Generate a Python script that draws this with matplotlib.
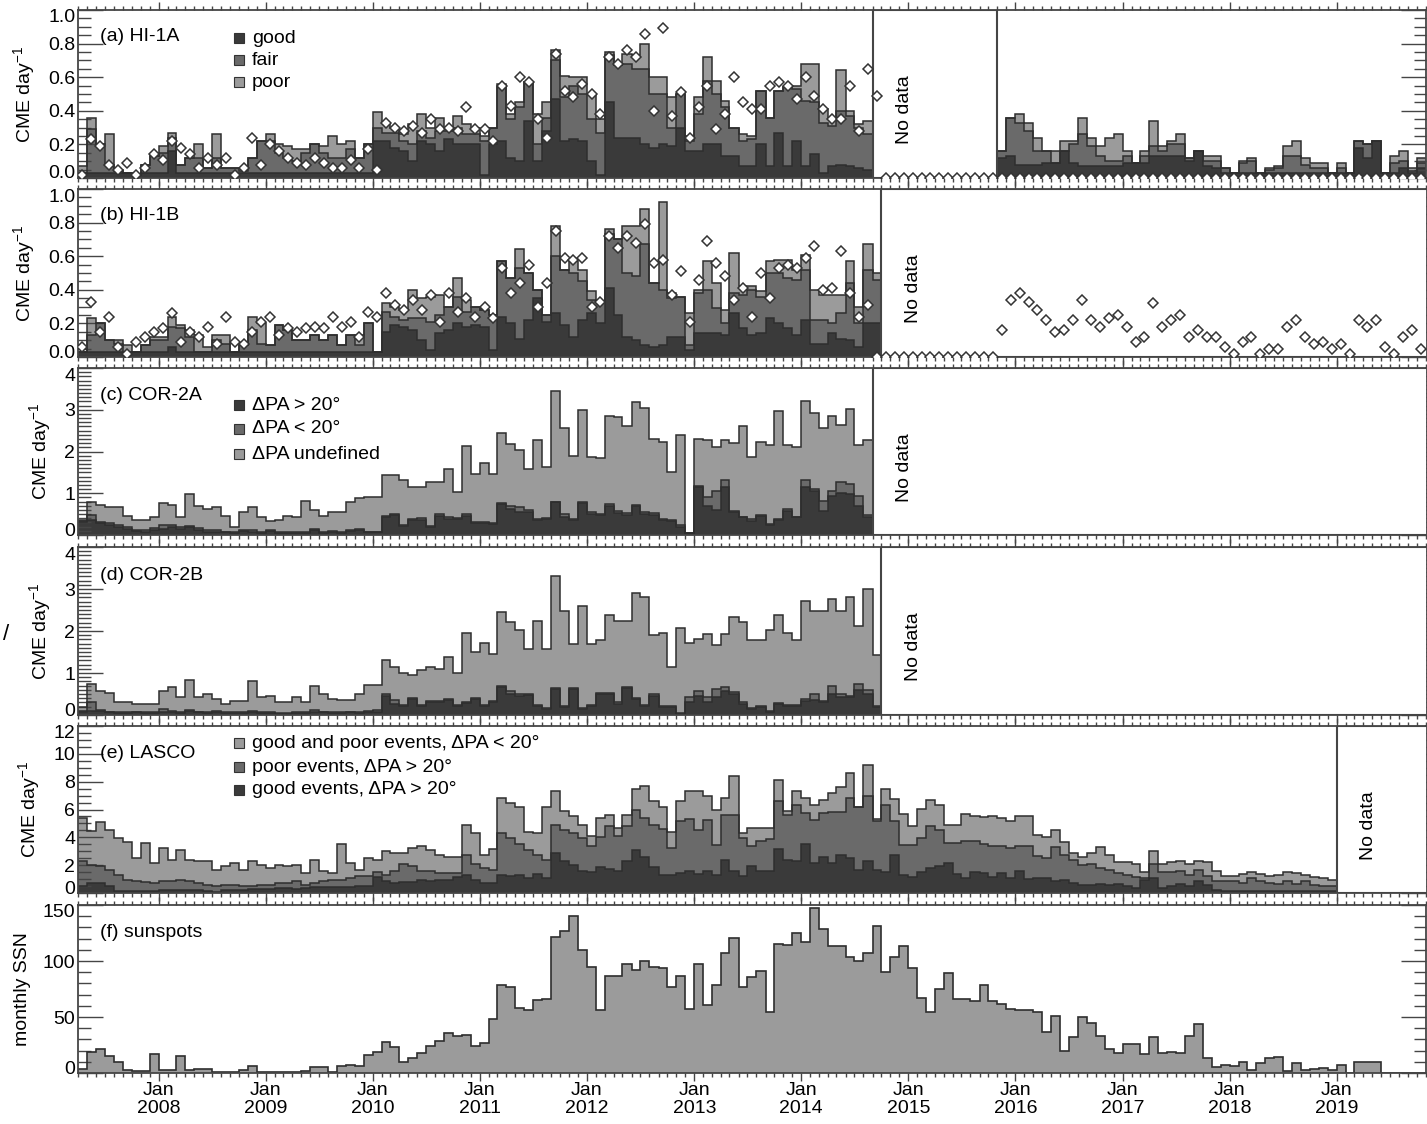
import numpy as np
import pandas as pd
import matplotlib
matplotlib.use("Agg")
import matplotlib.pyplot as plt
import matplotlib.dates as mdates
from matplotlib.patches import Rectangle
from matplotlib.ticker import FixedLocator, MultipleLocator, FormatStrFormatter
from matplotlib.transforms import ScaledTranslation

plt.rcParams['font.family'] = ['Liberation Sans', 'DejaVu Sans']
plt.rcParams['mathtext.fontset'] = 'custom'
plt.rcParams['mathtext.rm'] = 'Liberation Sans'
plt.rcParams['mathtext.it'] = 'Liberation Sans'
plt.rcParams['mathtext.default'] = 'regular'

nan = np.nan

# monthly bins, Apr 2007 .. Oct 2019
month_edges = pd.date_range("2007-04-01", periods=152, freq="MS")

# ---- (a) HI-1A: good / fair / poor, plus diamonds ----
hi1a_good = [.03,.03,.03,.03,.03,.03,.02,.03,.03,.03,.16,.03,.03,.03,.03,.03,.03,.03,.03,.03,
             .03,.03,.03,.03,.03,.03,.03,.03,.03,.03,.03,.03,.03,
             .22,.22,.18,.16,.10,.22,.20,.16,.23,.20,.20,.20,.02,.20,.22,.12,.10,.34,.10,.28,
             .47,.22,.23,.22,.10,.02,.45,.24,.24,.24,.20,.18,.20,.19,.30,.16,.16,.20,.20,.13,
             .13,.07,.07,.20,.07,.27,.07,.22,.07,.14,.03,.07,.08,.07,.06,.05,
             nan,nan,nan,nan,nan,nan,nan,nan,nan,nan,nan,nan,nan,nan,
             .12,.13,.08,.08,.08,.09,.09,.16,.09,.07,.07,.07,.07,.07,.09,.09,.09,.13,.13,.13,
             .13,.10,.16,.07,.06,.03,.03,.03,.03,.03,.03,.03,.03,.03,.03,.03,.03,.03,.03,.03,
             .18,.12,.22,.03,.03,.06,.03,.06]
hi1a_fair = [0,.26,.17,.05,.01,0,0,.05,.10,.12,.08,.05,.09,.09,.03,.09,.03,.03,.01,.09,
             .19,.19,.12,.09,.07,.12,.17,.12,.09,.09,.14,.09,.17,.08,.05,.09,.06,.10,.06,.04,
             .12,.05,.10,.06,.06,.20,.10,.32,.23,.32,.23,.10,.08,.23,.26,.32,.28,.25,.25,.28,
             .43,.44,.41,.45,.32,.30,.11,.20,.06,.22,.38,.30,.29,.17,.15,.16,.32,.29,.25,.47,
             .31,.39,.31,.30,.24,.32,.30,.24,.21,
             nan,nan,nan,nan,nan,nan,nan,nan,nan,nan,nan,nan,nan,nan,
             .04,.23,.25,.20,.08,.07,0,0,.11,.19,.12,.06,.03,.03,.04,0,.04,.06,.03,.07,
             .07,.02,0,.03,.04,.03,0,.06,.07,0,.02,.03,.10,.10,.05,.03,.03,0,.03,0,
             .04,.08,0,0,.06,.04,.01,.03]
hi1a_poor = [.04,.07,0,.18,.01,0,0,0,0,.04,.03,0,0,.08,0,.14,0,0,.02,0,
             0,.04,.05,.07,.07,.02,0,.04,.13,.08,.05,0,0,.09,.06,.03,.04,.12,.10,.06,
             .08,.01,.07,.06,.04,.03,0,.02,.03,.03,0,.18,.09,.06,.13,.05,.10,.15,.08,.02,
             0,.06,.08,.15,.10,.10,.18,0,.03,.10,.14,.08,.04,0,.04,.02,0,0,0,0,
             .02,.22,.23,.08,.05,.24,.03,.02,.08,
             nan,nan,nan,nan,nan,nan,nan,nan,nan,nan,nan,nan,nan,nan,
             0,0,.05,.05,.08,0,.07,.06,.02,.10,.05,.06,.14,.16,.03,0,.03,.15,.03,.02,
             .06,0,0,.03,.03,0,0,.01,.02,0,.01,.01,.06,.09,.04,.03,.03,0,.03,0,
             0,0,0,0,.04,.06,.02,.03]
hi1a_marks = [.02,.23,.19,.08,.05,.09,.02,.06,.14,.11,.22,.18,.14,.06,.12,.08,.12,.02,.06,.24,
              .08,.20,.16,.12,.09,.08,.12,.09,.06,.06,.11,.06,.17,.05,.33,.30,.28,.31,.27,.35,
              .29,.30,.28,.42,.29,.29,.22,.55,.43,.60,.57,.35,.24,.74,.52,.48,.56,.50,.38,.72,
              .68,.76,.72,.86,.40,.89,.37,.51,.24,.42,.55,.29,
              .38,.60,.45,.41,.41,.55,.57,.55,.47,.60,.49,.41,.35,.35,.55,.28,.65,.49,
              0,0,0,0,0,0,0,0,0,0,0,0,0,0,0,0,0,0,0,0,0,0,0,0,0,0,0,0,0,0,
              0,0,0,0,0,0,0,0,0,0,0,0,0,0,0,0,0,0,0,0,0,0,0,0,0,0,0,0,0,0,0]

# ---- (b) HI-1B ----
nan61 = [nan] * 61
hi1b_good = [.03,.03,.03,.03,.03,.03,.03,.03,.03,.03,.06,.03,.03,.03,.03,.03,.03,.03,.03,.03,
             .03,.03,.03,.03,.03,.03,.03,.03,.03,.03,.03,.03,.03,.03,
             .15,.19,.18,.16,.10,.04,.14,.16,.20,.18,.19,.18,.04,.24,.20,.11,.22,.35,.21,.26,
             .19,.12,.22,.26,.20,.41,.25,.12,.10,.07,.06,.07,.12,.12,.04,.14,.14,.14,.13,.26,
             .17,.13,.14,.23,.20,.17,.13,.22,.08,.08,.14,.11,.10,.06,.20,.20] + nan61
hi1b_fair = [0,.10,.17,.07,.05,0,0,.04,.07,.07,.12,.14,.09,0,0,.07,.05,0,.04,.13,
             .05,.04,.16,.13,.07,.07,.10,.07,.10,.04,.10,.04,.17,0,.12,.05,.04,.07,.13,.17,
             .11,.14,.16,.09,.11,.10,.21,.33,.27,.42,.28,.05,.04,.34,.33,.38,.23,.08,.13,.32,
             .45,.38,.38,.60,.38,.33,.23,.24,.03,.24,.26,.15,.07,.12,.20,.27,.22,.27,.30,.30,
             .33,.30,.14,.14,.06,.15,.34,.14,.32,.26] + nan61
hi1b_poor = [0,.10,0,0,.02,.04,0,0,.02,.02,.06,.02,.04,.10,.03,.03,.05,0,0,.08,
             .12,0,0,0,0,0,0,0,0,0,0,.06,0,0,.05,.06,.06,.17,.12,.15,
             .12,0,.11,.07,0,0,0,0,0,.11,0,0,0,.18,0,.07,.07,.05,0,.03,
             0,.28,.30,.21,0,.52,.03,0,.19,.02,.17,.15,.08,.24,.05,.02,.03,.07,.08,.11,
             .06,.09,.18,.15,.17,.11,.13,.10,.15,.04] + nan61
hi1b_marks = [.06,.33,.15,.24,.06,.02,.09,.12,.15,.17,.26,.09,.15,.12,.18,.08,.24,.09,.08,.15,
              .21,.24,.13,.17,.15,.17,.18,.17,.24,.18,.21,.12,.27,.24,.38,.31,.28,.34,.28,.37,
              .21,.38,.27,.35,.24,.30,.23,.53,.38,.44,.55,.30,.44,.75,.59,.58,.59,.30,.33,.72,
              .65,.72,.68,.79,.56,.58,.37,.51,.21,.46,
              .69,.56,.48,.34,.41,.24,.50,.35,.53,.55,.53,.59,.66,.40,.41,.63,.38,.24,.31,
              0,0,0,0,0,0,0,0,0,0,0,0,0,0,
              .16,.34,.38,.33,.28,.22,.15,.16,.22,.34,.22,.18,.23,.25,.18,.09,.12,.32,.18,.22,
              .25,.12,.16,.12,.12,.06,.02,.09,.12,.02,.05,.05,.18,.22,.12,.08,.09,.05,.08,.02,
              .22,.18,.22,.06,.02,.12,.16,.05]

# ---- (c) COR-2A: dPA > 20, dPA < 20, dPA undefined ----
nan62 = [nan] * 62
cor2a_gt20 = [.30,.35,.28,.25,.20,.15,.10,.08,.12,.15,.20,.15,.18,.12,.08,.08,.06,.05,.10,.08,
              .05,.10,.05,.05,.05,.05,.12,.05,.08,.05,.10,.12,.06,.06,.42,.48,.22,.35,.35,.18,
              .46,.38,.38,.46,.28,.28,.26,.74,.62,.54,.54,.35,.38,.78,.44,.35,.76,.50,.48,.70,
              .53,.48,.69,.50,.48,.36,.34,.20,.04,1.15,.70,.60,1.15,.54,.42,.34,.46,.23,.36,.58,
              .44,1.16,1.06,.58,.94,1.00,.98,.70,.42] + nan62
cor2a_lt20 = [.04,.12,.03,.03,.03,.04,.03,.03,.04,.08,.05,.03,.04,.04,.03,.03,.02,.02,.03,.03,
              .02,.02,.02,.02,.02,.02,.03,.02,.02,.02,.03,.03,.02,.02,.04,.03,.03,.04,.05,.03,
              .05,.04,.03,.04,.03,.03,.03,.02,.08,.12,.05,.04,.03,.02,.06,.04,.03,.04,.03,.04,
              .05,.04,.04,.06,.04,.03,.03,.03,.01,.02,.20,.46,.16,.04,.00,.04,.02,.03,.02,.04,
              .00,.15,.04,.24,.12,.27,.23,.24,.06] + nan62
cor2a_undef = [.02,.31,.42,.38,.43,.27,.22,.24,.26,.53,.48,.24,.76,.53,.51,.55,.38,.13,.41,.55,
               .35,.22,.29,.39,.35,.75,.45,.39,.44,.47,.65,.74,.82,.82,.98,.92,1.07,.76,.76,1.06,
               .76,1.17,.61,1.63,1.16,1.42,1.18,1.68,1.49,1.37,1.00,1.88,1.22,2.64,2.06,1.51,2.21,1.33,1.34,2.10,
               2.24,2.10,2.45,2.48,1.79,1.84,1.14,2.17,0,1.13,1.37,1.04,.96,1.63,2.18,1.49,1.75,1.89,2.60,1.53,
               1.66,1.89,1.82,1.74,1.79,1.37,1.81,1.21,1.79] + nan62

# ---- (d) COR-2B ----
cor2b_gt20 = [.06,.10,.10,.06,.05,.05,.06,.05,.05,.08,.06,.05,.10,.06,.05,.08,.05,.05,.05,.06,
              .05,.05,.03,.03,.05,.05,.08,.06,.05,.05,.06,.05,.08,.08,.45,.27,.22,.37,.22,.30,
              .30,.35,.22,.29,.38,.22,.30,.66,.51,.46,.47,.22,.14,.62,.19,.62,.14,.22,.50,.50,
              .27,.64,.38,.22,.46,.19,.18,.02,.32,.46,.30,.42,.58,.50,.26,.14,.19,.06,.26,.22,
              .22,.34,.35,.30,.50,.43,.43,.59,.50,.20] + nan61
cor2b_lt20 = [.03,.20,.03,.02,.02,.02,.02,.02,.02,.06,.03,.02,.03,.02,.02,.02,.02,.02,.02,.03,
              .02,.02,.02,.02,.02,.02,.03,.02,.02,.02,.02,.02,.02,.03,.04,.08,.03,.03,.03,.03,
              .03,.03,.03,.03,.03,.03,.03,.03,.05,.03,.03,.03,.03,.03,.03,.03,.03,.03,.03,.02,
              .03,.03,.03,.03,.03,.03,.03,.03,.10,.10,.12,.20,.09,.04,.04,.02,.02,.03,.02,.02,
              .02,.05,.16,.03,.20,.08,.03,.16,.10,.02] + nan61
cor2b_undef = [.11,.44,.45,.45,.23,.23,.19,.19,.19,.44,.58,.36,.70,.35,.44,.28,.19,.27,.27,.71,
               .36,.39,.26,.26,.37,.23,.57,.42,.31,.28,.27,.44,.62,.61,.82,.80,.74,.56,.81,.81,
               .77,1.01,.74,1.63,1.09,1.46,1.13,1.77,1.66,1.54,1.08,1.99,1.41,2.65,2.26,1.05,2.42,1.43,1.26,1.85,
               1.94,1.57,2.50,2.55,1.41,1.73,.94,2.03,1.29,1.26,1.52,1.04,1.27,1.80,1.92,1.63,1.58,1.94,2.10,1.71,
               1.55,2.33,1.97,2.15,2.06,1.97,2.34,1.37,2.39,1.20] + nan61

# ---- (e) LASCO ----
nan10 = [nan] * 10
lasco_good = [.48,.72,.72,.48,.12,.12,.12,.12,.15,.20,.20,.25,.25,.20,.15,.10,.20,.25,.25,.30,
              .30,.30,.35,.35,.30,.35,.40,.40,.45,.40,.45,.50,.50,1.13,.84,.72,.80,.80,.90,.84,
              .90,.90,1.13,1.30,.90,.72,.72,1.30,1.20,1.30,1.10,1.37,1.10,2.87,2.30,2.00,1.56,1.50,1.84,1.70,
              1.56,2.30,3.10,2.60,1.90,1.30,1.30,1.44,1.56,1.40,
              1.56,1.27,2.4,1.56,1.2,1.92,1.6,1.6,3.18,2.4,2.3,3.5,2.15,2.56,2.15,2.7,2.5,1.68,2.28,1.68,
              1.5,2.75,1.32,1.13,1.5,1.8,1.92,2.15,1.37,1.08,1.5,1.44,1.13,1.44,1.08,1.6,1.03,1.08,1.08,.84,
              .96,.72,.6,.55,.67,.6,.65,.48,.36,.96,1.08,.36,.48,.67,.48,.84,.6,.24,
              .12,.12,.12,.12,.12,.12,.12,.12,.12,.12,.12,.12,.12] + nan10
lasco_poor = [1.80,1.32,1.20,1.20,1.20,.84,.72,.68,.57,.64,.64,.71,.59,.52,.45,.40,.40,.35,.25,.20,
              .30,.30,.37,.37,.54,.25,.32,.44,.51,.56,.63,.70,.70,.37,.48,.88,1.30,1.12,.66,.72,
              .54,.54,.31,1.45,1.20,1.08,.96,3.00,2.75,2.22,2.00,1.38,1.30,2.03,2.25,2.30,2.39,1.85,2.16,3.10,
              2.54,2.50,2.90,2.80,3.00,3.30,1.90,3.71,3.74,3.10,
              3.71,2.20,3.20,4.04,2.75,1.43,2.16,2.30,3.42,3.20,4.05,2.25,3.12,3.19,3.65,3.10,4.30,4.47,4.72,3.52,
              4.80,2.45,2.15,2.34,2.45,3.04,2.63,1.45,2.23,2.68,2.26,2.08,2.27,1.91,2.15,1.80,2.32,1.55,1.42,2.44,
              1.79,1.68,1.44,1.53,1.13,1.08,.79,.84,.77,.12,1.00,1.14,1.02,.89,.84,.84,.60,.60,.72,.72,
              .60,.96,.72,.60,.55,.72,.55,.72,.48,.36,.36] + nan10
lasco_lt20 = [3.12,2.39,3.18,2.87,2.63,2.74,1.66,2.80,1.43,2.39,1.56,2.14,1.56,1.56,1.68,1.13,1.32,1.55,1.18,1.78,
              1.44,1.20,1.32,1.20,1.20,.84,1.63,.72,.48,2.56,1.07,.48,1.30,.90,1.68,1.27,.77,1.31,1.79,1.55,
              1.31,1.12,1.12,2.16,2.20,.95,1.48,2.50,2.55,2.68,1.30,1.55,3.80,2.40,1.35,1.20,.95,.75,1.40,.80,
              .60,.80,1.50,2.30,1.70,1.60,1.20,1.45,2.00,2.80,
              1.73,2.53,1.20,2.80,.35,1.35,.94,.80,1.50,.30,.95,1.05,1.03,.95,1.40,1.80,1.80,.05,2.20,.10,
              1.20,1.55,2.23,1.33,2.11,1.82,1.75,1.30,1.30,1.94,1.74,1.92,2.10,2.05,1.92,2.15,2.20,1.57,1.50,1.27,
              .95,.47,.52,.79,1.48,1.02,.79,.91,.97,.42,.96,.58,.73,.72,.78,.60,1.03,.72,.36,.36,
              .65,.42,.53,.48,.65,.66,.77,.43,.53,.60,.48] + nan10

# ---- (f) monthly sunspot number ----
ssn = [4,19,21,15,10,3,1.5,2,17,3,2.4,15,3,4,4,.5,.5,.5,3,6,
       .6,1.2,.5,.5,.5,2,5.5,5.5,.5,6,7,6,16,19,28,23,10,13,18,24,
       28.5,36,33,34,24,27,48,79,77,58,56,65,66,121,127,140,110,95,56,87,
       87,97,92,100,95,94,77,87,57,97,61,79,107.5,120.6,77,86,91.5,54.5,115,114,
       125,117,147,129,113,113,104,100,107.5,131,90,104,113,94,67,54.5,75,89,66,66,
       64,79,64,62,57.5,56,56,54.5,37,51,20,32,50,45,33,21,18,26,26,17,
       32,18,19,18,33,44,13,5,7,6,10,2.4,8.5,13,14.5,1.5,8.5,2.4,4,4.5,
       2.4,7,0,9.5,9.5,9.5,0,0,0,0,0]

DARK, MID, LIGHT = '#3a3a3a', '#6a6a6a', '#9b9b9b'
LINE = '#2e2e2e'
FRAME = '#454545'

edges = mdates.date2num(month_edges.to_pydatetime())
centers = (edges[:-1] + edges[1:]) / 2


def runs(mask):
    idx = np.flatnonzero(mask)
    if len(idx) == 0:
        return []
    groups = np.split(idx, np.flatnonzero(np.diff(idx) > 1) + 1)
    return [(g[0], g[-1] + 1) for g in groups]


def draw_stack(ax, layers, colors):
    base = np.zeros(len(edges) - 1)
    for vals, col in zip(layers, colors):
        top = base + np.asarray(vals, float)
        for s, e in runs(~np.isnan(top)):
            ax.stairs(top[s:e], edges[s:e + 1], baseline=base[s:e], fill=True,
                      color=col, lw=0, zorder=1)
            ax.stairs(top[s:e], edges[s:e + 1], baseline=None, color=LINE,
                      lw=1.1, zorder=2)
        base = top


def no_data(ax, i0, i1, ymax, xfrac):
    x0 = edges[i0]
    x1 = edges[i1] if i1 is not None else edges[-1] + 400
    ax.add_patch(Rectangle((x0, 0), x1 - x0, ymax, facecolor='white',
                           edgecolor=FRAME, lw=1.5, zorder=3))
    ax.text(xfrac, 0.405, 'No data', rotation=90, transform=ax.transAxes,
            ha='center', va='center', fontsize=14, zorder=6)


def legend(ax, entries, ys):
    for (lab, col), y in zip(entries, ys):
        ax.plot([0.1194], [y], marker='s', ms=7, mfc=col, mec='#333333', mew=0.8,
                transform=ax.transAxes, clip_on=False, zorder=7)
        ax.text(0.1291, y, lab, transform=ax.transAxes, va='center', ha='left',
                fontsize=14, zorder=7)


W, H = 1427, 1124
fig = plt.figure(figsize=(W / 100, H / 100), dpi=100)
rows = [(10, 178), (189, 357), (368, 535), (547, 715), (726, 893), (905, 1073)]
left = 78 / W
width = (1425.8 - 78) / W
axes = [fig.add_axes([left, 1 - b / H, width, (b - t) / H]) for t, b in rows]
ax_a, ax_b, ax_c, ax_d, ax_e, ax_f = axes

diamond = dict(ls='none', marker='D', ms=5.6, mfc='white', mec='#333333', mew=1.1, zorder=5)

# (a)
draw_stack(ax_a, [hi1a_good, hi1a_fair, hi1a_poor], [DARK, MID, LIGHT])
no_data(ax_a, 89, 103, 1.0, 0.6135)
ax_a.plot(centers, hi1a_marks, **diamond)
legend(ax_a, [('good', DARK), ('fair', MID), ('poor', LIGHT)], [0.833, 0.702, 0.571])

# (b)
draw_stack(ax_b, [hi1b_good, hi1b_fair, hi1b_poor], [DARK, MID, LIGHT])
no_data(ax_b, 90, None, 1.0, 0.6198)
ax_b.plot(centers, hi1b_marks, **diamond)

# (c)
draw_stack(ax_c, [cor2a_gt20, cor2a_lt20, cor2a_undef], [DARK, MID, LIGHT])
no_data(ax_c, 89, None, 4.0, 0.6135)
legend(ax_c, [('\u0394PA > 20\u00b0', DARK), ('\u0394PA < 20\u00b0', MID),
              ('\u0394PA undefined', LIGHT)], [0.778, 0.635, 0.485])

# (d)
draw_stack(ax_d, [cor2b_gt20, cor2b_lt20, cor2b_undef], [DARK, MID, LIGHT])
no_data(ax_d, 90, None, 4.0, 0.6198)

# (e)
draw_stack(ax_e, [lasco_good, lasco_poor, lasco_lt20], [DARK, MID, LIGHT])
no_data(ax_e, 141, None, 12.0, 0.9573)
legend(ax_e, [('good and poor events, \u0394PA < 20\u00b0', LIGHT),
              ('poor events, \u0394PA > 20\u00b0', MID),
              ('good events, \u0394PA > 20\u00b0', DARK)], [0.898, 0.754, 0.617])

# (f)
ax_f.stairs(np.asarray(ssn, float), edges, fill=True, color=LIGHT, lw=0, zorder=1)
ax_f.stairs(np.asarray(ssn, float), edges, baseline=None, color=LINE, lw=1.2, zorder=2)

panel_labels = ['(a) HI-1A', '(b) HI-1B', '(c) COR-2A', '(d) COR-2B', '(e) LASCO', '(f) sunspots']
label_y = [0.845, 0.845, 0.838, 0.833, 0.838, 0.839]
yspecs = [
    ([0, .2, .4, .6, .8, 1.0], 0.05, (0, 1.0), '%.1f', 'CME day$^{-1}$'),
    ([0, .2, .4, .6, .8, 1.0], 0.05, (0, 1.0), '%.1f', 'CME day$^{-1}$'),
    ([0, 1, 2, 3, 4], 0.1, (0, 4), '%d', 'CME day$^{-1}$'),
    ([0, 1, 2, 3, 4], 0.1, (0, 4), '%d', 'CME day$^{-1}$'),
    ([0, 2, 4, 6, 8, 10, 12], 0.5, (0, 12), '%d', 'CME day$^{-1}$'),
    ([0, 50, 100, 150], 10, (0, 150), '%d', 'monthly SSN'),
]

for ax, lab, ly, (yt, ymin, ylim, fmt, ylab) in zip(axes, panel_labels, label_y, yspecs):
    ax.set_xlim(edges[0], edges[-1])
    ax.set_ylim(*ylim)
    ax.xaxis.set_major_locator(mdates.YearLocator(1, month=1, day=1))
    ax.xaxis.set_minor_locator(mdates.MonthLocator())
    ax.yaxis.set_major_locator(FixedLocator(yt))
    ax.yaxis.set_minor_locator(MultipleLocator(ymin))
    ax.yaxis.set_major_formatter(FormatStrFormatter(fmt))
    ax.tick_params(axis='x', which='both', direction='out', top=True, bottom=True,
                   color=FRAME, width=1.0)
    ax.tick_params(axis='x', which='major', length=5.5)
    ax.tick_params(axis='x', which='minor', length=2.8)
    ax.tick_params(axis='y', which='both', direction='in', left=True, right=True,
                   color=FRAME, width=1.0, labelsize=14, pad=2)
    ax.tick_params(axis='y', which='major', length=18)
    ax.tick_params(axis='y', which='minor', length=9)
    for sp in ax.spines.values():
        sp.set_color(FRAME)
        sp.set_linewidth(1.3)
    ax.set_ylabel(ylab, fontsize=14, labelpad=8)
    ax.text(0.0163, ly, lab, transform=ax.transAxes, fontsize=14, ha='left',
            va='center', zorder=7)
    if ax is ax_f:
        ax.xaxis.set_major_formatter(mdates.DateFormatter('%b\n%Y'))
        ax.tick_params(axis='x', labelsize=14, pad=1)
    else:
        ax.tick_params(axis='x', labelbottom=False)
    # end labels sit a little inside the frame
    ticks = ax.yaxis.get_major_ticks()
    up = ScaledTranslation(0, 0.06, fig.dpi_scale_trans)
    down = ScaledTranslation(0, -0.06, fig.dpi_scale_trans)
    ticks[0].label1.set_transform(ticks[0].label1.get_transform() + up)
    ticks[-1].label1.set_transform(ticks[-1].label1.get_transform() + down)

for lab in ax_f.get_xticklabels():
    lab.set_linespacing(1.05)

fig.text(3 / W, 1 - 634 / H, '/', fontsize=16, ha='left', va='center')

fig.savefig('out.png', dpi=100)
